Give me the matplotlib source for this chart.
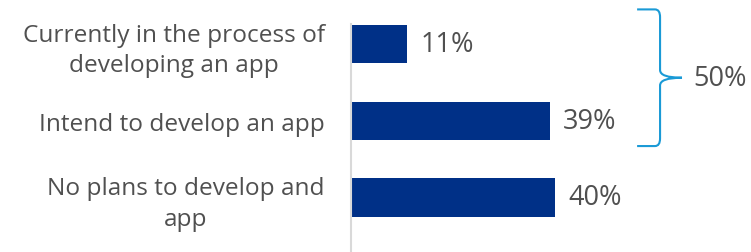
import matplotlib.pyplot as plt
from matplotlib.path import Path
from matplotlib.patches import PathPatch

categories = ["Currently in the process of\ndeveloping an app",
              "Intend to develop an app",
              "No plans to develop and\napp"]
values = [11, 39, 40]
value_labels = ["11%", "39%", "40%"]
brace_label = "50%"

navy = "#003087"
sky = "#1a9ad6"
grey = "#505050"

plt.rcParams['font.family'] = ['Open Sans', 'DejaVu Sans']

fig = plt.figure(figsize=(7.51, 2.53), dpi=100)
ax = fig.add_axes([351 / 751, 0, 400 / 751, 228 / 253])

ypos = list(range(len(categories)))
ax.barh(ypos, values, height=0.5, color=navy)
ax.set_xlim(0, 400 / 5.1)
ax.set_ylim(2.71, -0.26)

for y, v, lab in zip(ypos, values, value_labels):
    ax.text(v + 2.6, y, lab, va='center', ha='left', fontsize=19.5,
            color=grey)

ax.set_yticks(ypos)
ax.set_yticklabels(categories, fontsize=17.6, color=grey,
                   multialignment='center', linespacing=1.35)
ax.tick_params(axis='y', length=0, pad=19)
ax.set_xticks([])
for side in ['top', 'right', 'bottom']:
    ax.spines[side].set_visible(False)
ax.spines['left'].set_color('#d9d9d9')
ax.spines['left'].set_linewidth(1.5)

# curly brace spanning the first two bars
x0, x1, x2, xt = 56.1, 59.6, 60.6, 64.9
top, bot = -0.45, 1.33
mid = (top + bot) / 2
r = 0.1
verts = [(x0, top), (x1, top), (x2, top), (x2, top + r),
         (x2, mid - r), (x2, mid), (xt, mid),
         (x2, mid), (x2, mid + r),
         (x2, bot - r), (x2, bot), (x1, bot), (x0, bot)]
codes = [Path.MOVETO, Path.LINETO, Path.CURVE3, Path.CURVE3,
         Path.LINETO, Path.CURVE3, Path.CURVE3,
         Path.CURVE3, Path.CURVE3,
         Path.LINETO, Path.CURVE3, Path.CURVE3, Path.LINETO]
ax.add_patch(PathPatch(Path(verts, codes), fill=False, edgecolor=sky,
                       linewidth=1.5, clip_on=False))
ax.text(xt + 2.3, mid, brace_label, va='center', ha='left', fontsize=19.5,
        color=grey, clip_on=False)

fig.savefig("out.png", dpi=100)
